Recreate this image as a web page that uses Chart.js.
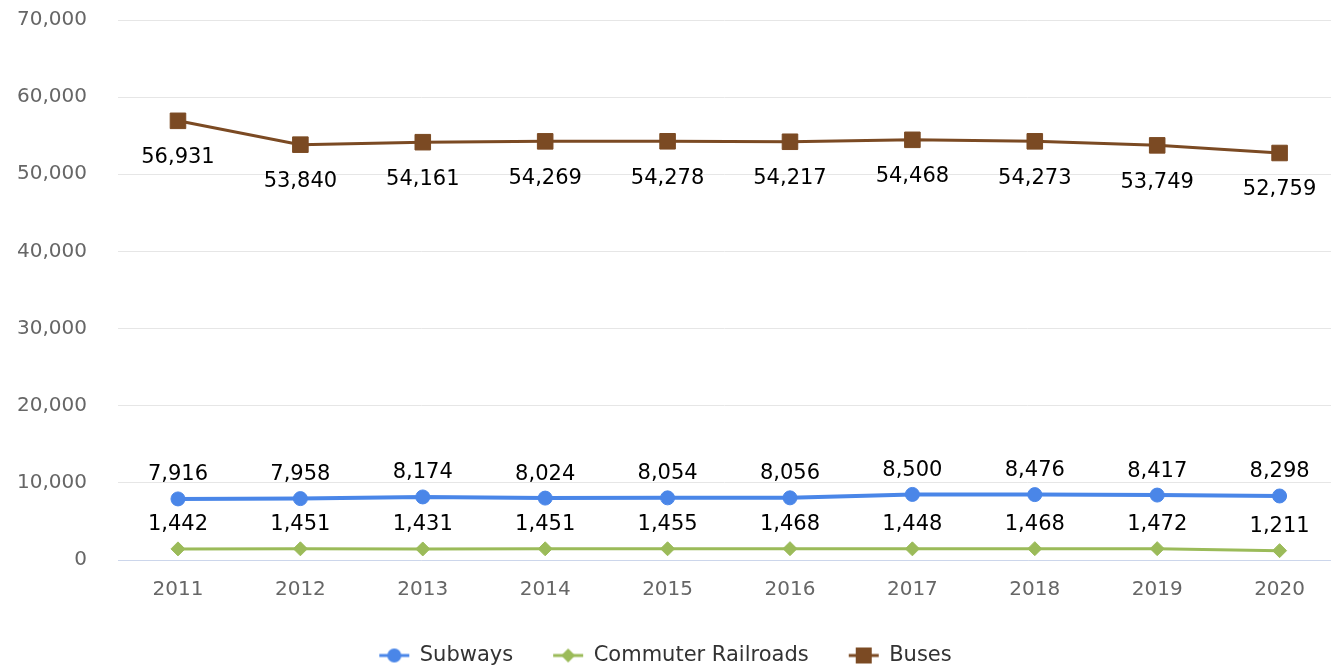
<!DOCTYPE html>
<html>
<head>
<meta charset="utf-8">
<script src="https://cdn.jsdelivr.net/npm/chart.js@4/dist/chart.umd.min.js"></script>
<style>
  html, body { margin: 0; padding: 0; background: #fff; }
  #wrap { width: 1331px; height: 668px; }
</style>
</head>
<body>
<div id="wrap"><canvas id="chart" width="1331" height="668"></canvas></div>
<script>
const years = [2011, 2012, 2013, 2014, 2015, 2016, 2017, 2018, 2019, 2020];
const subways = [7916, 7958, 8174, 8024, 8054, 8056, 8500, 8476, 8417, 8298];
const railroads = [1442, 1451, 1431, 1451, 1455, 1468, 1448, 1468, 1472, 1211];
const buses = [56931, 53840, 54161, 54269, 54278, 54217, 54468, 54273, 53749, 52759];
const yTicks = [0, 10000, 20000, 30000, 40000, 50000, 60000, 70000];

const BLUE = "#4a86e8";
const GREEN = "#9bbb59";
const BROWN = "#7b4a23";

const fmt = (v) => v.toLocaleString("en-US");
const toPoints = (vals) => vals.map((v, i) => ({ x: years[i], y: v }));

// legend symbol: short line with the marker in the middle
function legendSymbol(color, shape) {
  const c = document.createElement("canvas");
  c.width = 32;
  c.height = 18;
  const g = c.getContext("2d");
  g.strokeStyle = color;
  g.fillStyle = color;
  g.lineWidth = 3;
  g.beginPath();
  g.moveTo(1, 9);
  g.lineTo(31, 9);
  g.stroke();
  g.beginPath();
  if (shape === "circle") g.arc(16, 9, 7, 0, Math.PI * 2);
  else if (shape === "diamond") {
    g.moveTo(16, 2); g.lineTo(23, 9); g.lineTo(16, 16); g.lineTo(9, 9); g.closePath();
  } else g.rect(8, 1, 16, 16);
  g.fill();
  return c;
}

const series = [
  { label: "Subways", data: subways, color: BLUE, style: "circle", shape: "circle", radius: 7, width: 4, off: -24 },
  { label: "Commuter Railroads", data: railroads, color: GREEN, style: "rectRot", shape: "diamond", radius: 7, width: 3, off: -24 },
  { label: "Buses", data: buses, color: BROWN, style: "rect", shape: "square", radius: 11, width: 3, off: 37 },
];

const valueLabels = {
  id: "valueLabels",
  afterDatasetsDraw(chart) {
    const ctx = chart.ctx;
    ctx.save();
    ctx.font = "21px 'DejaVu Sans'";
    ctx.fillStyle = "#000";
    ctx.textAlign = "center";
    ctx.textBaseline = "middle";
    chart.data.datasets.forEach((ds, di) => {
      const meta = chart.getDatasetMeta(di);
      meta.data.forEach((pt, i) => {
        ctx.fillText(fmt(ds.data[i].y), pt.x, pt.y + series[di].off);
      });
    });
    ctx.restore();
  },
};

const legendHeight = {
  id: "legendHeight",
  beforeLayout(chart) {
    const lg = chart.legend;
    if (lg && !lg._fixed) {
      const fit = lg.fit;
      lg.fit = function () {
        fit.call(this);
        this.height = 63;
      };
      lg._fixed = true;
    }
  },
};

Chart.defaults.font.family = "'DejaVu Sans', Verdana, sans-serif";
Chart.defaults.font.size = 20;

new Chart(document.getElementById("chart"), {
  type: "line",
  data: {
    datasets: series.map((s) => ({
      label: s.label,
      data: toPoints(s.data),
      borderColor: s.color,
      backgroundColor: s.color,
      borderWidth: s.width,
      pointStyle: s.style,
      pointRadius: s.radius,
      pointHoverRadius: s.radius,
      pointBorderWidth: 1,
      tension: 0,
      clip: false,
      legendSymbol: legendSymbol(s.color, s.shape),
    })),
  },
  options: {
    responsive: false,
    animation: false,
    layout: { autoPadding: false, padding: { top: 20, right: 0, left: 0, bottom: 0 } },
    scales: {
      x: {
        type: "linear",
        min: 2010.51,
        max: 2020.42,
        afterBuildTicks: (scale) => {
          scale.ticks = years.map((y) => ({ value: y }));
        },
        afterFit: (scale) => {
          scale.height = 45;
          scale.paddingLeft = 0;
          scale.paddingRight = 0;
        },
        ticks: {
          autoSkip: false,
          maxRotation: 0,
          padding: 18,
          color: "#666",
          callback: (v) => String(v),
        },
        grid: { display: false, drawTicks: false },
        border: { display: true, color: "#ccd6eb", width: 1 },
      },
      y: {
        min: 0,
        max: 70000,
        afterBuildTicks: (scale) => {
          scale.ticks = yTicks.map((v) => ({ value: v }));
        },
        afterFit: (scale) => {
          scale.width = 118;
          scale.paddingTop = 0;
          scale.paddingBottom = 0;
        },
        ticks: { padding: 31, color: "#666", callback: (v) => fmt(v) },
        grid: { color: "#e6e6e6", lineWidth: 1, drawTicks: false },
        border: { display: false },
      },
    },
    plugins: {
      tooltip: { enabled: false },
      legend: {
        position: "bottom",
        labels: {
          usePointStyle: true,
          pointStyleWidth: 30,
          padding: 40,
          color: "#333",
          font: { size: 21 },
          generateLabels: (chart) =>
            chart.data.datasets.map((ds, i) => ({
              text: ds.label,
              datasetIndex: i,
              fontColor: "#333",
              pointStyle: ds.legendSymbol,
              hidden: false,
              lineWidth: 0,
              strokeStyle: ds.borderColor,
              fillStyle: ds.borderColor,
            })),
        },
      },
    },
  },
  plugins: [valueLabels, legendHeight],
});
</script>
</body>
</html>
